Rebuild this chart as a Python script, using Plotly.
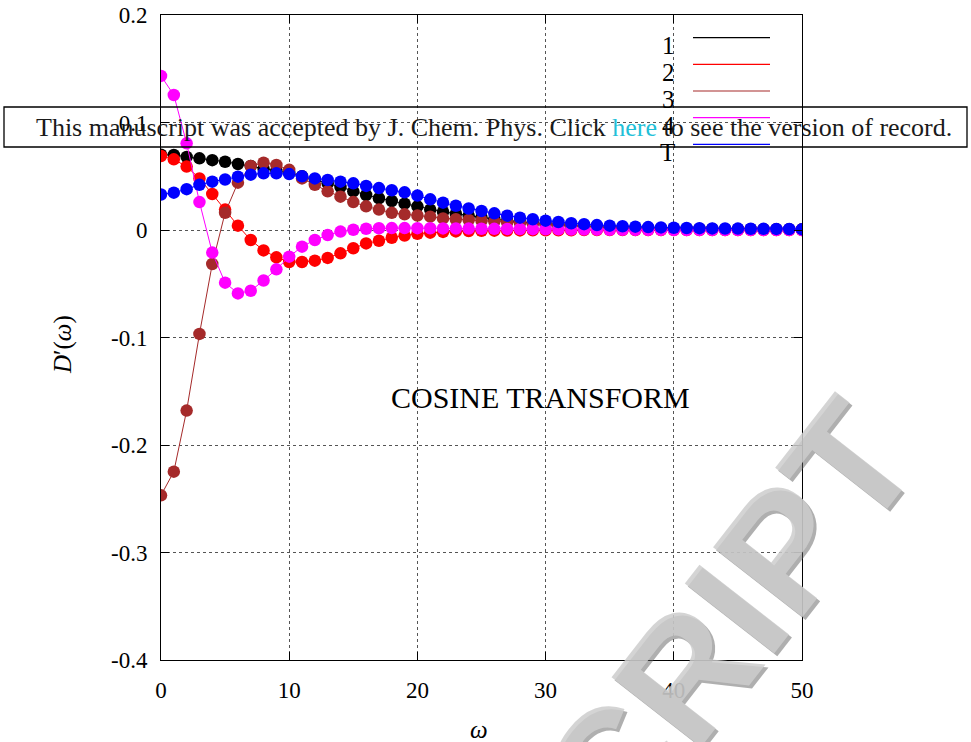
import plotly.graph_objects as go

# Frequency grid
omega = list(range(51))

# Cosine-transform curves D'(omega) for each component
d1 = [0.0700, 0.0698, 0.0680, 0.0667, 0.0650, 0.0635, 0.0614, 0.0595, 0.0570, 0.0550,
      0.0530, 0.0500, 0.0470, 0.0435, 0.0400, 0.0360, 0.0326, 0.0295, 0.0270, 0.0245,
      0.0220, 0.0190, 0.0170, 0.0152, 0.0133, 0.0116, 0.0100, 0.0087, 0.0075, 0.0064,
      0.0055, 0.0047, 0.0040, 0.0034, 0.0029, 0.0025, 0.0021, 0.0018, 0.0016, 0.0014,
      0.0012, 0.0011, 0.0010, 0.0009, 0.0008, 0.0008, 0.0007, 0.0007, 0.0006, 0.0006,
      0.0006]
d2 = [0.0688, 0.0657, 0.0590, 0.0480, 0.0335, 0.0190, 0.0040, -0.0093, -0.0190, -0.0254,
      -0.0298, -0.0298, -0.0285, -0.0260, -0.0217, -0.0170, -0.0125, -0.0100, -0.0072, -0.0052,
      -0.0035, -0.0025, -0.0018, -0.0013, -0.0010, -0.0008, -0.0006, -0.0005, -0.0004, -0.0003,
      -0.0002, -0.0002, -0.0002, -0.0001, -0.0001, -0.0001, -0.0001, -0.0001, 0.0000, 0.0000,
      0.0000, 0.0000, 0.0000, 0.0000, 0.0000, 0.0000, 0.0000, 0.0000, 0.0000, 0.0000,
      0.0000]
d3 = [-0.2468, -0.2248, -0.1680, -0.0967, -0.0316, 0.0160, 0.0440, 0.0595, 0.0626, 0.0605,
      0.0560, 0.0480, 0.0420, 0.0360, 0.0310, 0.0260, 0.0220, 0.0190, 0.0160, 0.0146,
      0.0135, 0.0124, 0.0108, 0.0100, 0.0093, 0.0087, 0.0080, 0.0072, 0.0065, 0.0058,
      0.0050, 0.0044, 0.0038, 0.0032, 0.0027, 0.0023, 0.0019, 0.0016, 0.0014, 0.0012,
      0.0010, 0.0009, 0.0009, 0.0008, 0.0008, 0.0007, 0.0007, 0.0006, 0.0006, 0.0005,
      0.0005]
d4 = [0.1433, 0.1256, 0.0806, 0.0260, -0.0210, -0.0490, -0.0590, -0.0565, -0.0470, -0.0366,
      -0.0248, -0.0155, -0.0093, -0.0047, -0.0015, 0.0002, 0.0012, 0.0016, 0.0018, 0.0018,
      0.0017, 0.0016, 0.0015, 0.0014, 0.0013, 0.0012, 0.0011, 0.0010, 0.0009, 0.0008,
      0.0007, 0.0006, 0.0005, 0.0004, 0.0003, 0.0002, 0.0002, 0.0001, 0.0001, 0.0001,
      0.0000, 0.0000, 0.0000, 0.0000, 0.0000, 0.0000, 0.0000, 0.0000, 0.0000, 0.0000,
      0.0000]
dT = [0.0330, 0.0347, 0.0380, 0.0420, 0.0450, 0.0470, 0.0496, 0.0515, 0.0527, 0.0527,
      0.0520, 0.0500, 0.0480, 0.0465, 0.0450, 0.0434, 0.0410, 0.0390, 0.0370, 0.0350,
      0.0320, 0.0285, 0.0254, 0.0226, 0.0200, 0.0177, 0.0155, 0.0133, 0.0115, 0.0100,
      0.0087, 0.0074, 0.0063, 0.0054, 0.0046, 0.0040, 0.0035, 0.0031, 0.0027, 0.0024,
      0.0021, 0.0019, 0.0017, 0.0015, 0.0014, 0.0013, 0.0012, 0.0011, 0.0010, 0.0009,
      0.0008]

series_names = ["1", "2", "3", "4", "T"]
series_values = [d1, d2, d3, d4, dT]
series_colors = ["#000000", "#ff0000", "#a52a2a", "#ff00ff", "#0000ff"]

x_ticks = [0, 10, 20, 30, 40, 50]
y_ticks = [-0.4, -0.3, -0.2, -0.1, 0, 0.1, 0.2]
y_tick_text = ["-0.4", "-0.3", "-0.2", "-0.1", "0", "0.1", "0.2"]

W, H = 971, 742
L, R, T, B = 161, 802, 15, 660
SERIF = "Liberation Serif"


def px_x(px):
    return (px - L) / (R - L)


def px_y(py):
    return (B - py) / (B - T)


fig = go.Figure()
for name, vals, col in zip(series_names, series_values, series_colors):
    fig.add_trace(go.Scatter(
        x=omega, y=vals, mode="lines+markers", name=name, showlegend=False,
        line=dict(color=col, width=1),
        marker=dict(color=col, size=12.5, line=dict(width=0)),
    ))

axis_common = dict(
    showline=True, linecolor="black", linewidth=1, mirror="ticks",
    ticks="inside", ticklen=8, tickcolor="black", tickwidth=1,
    showgrid=True, gridcolor="#555555", griddash="dot", gridwidth=1,
    zeroline=False, tickfont=dict(family=SERIF, size=23, color="black"),
)
fig.update_xaxes(range=[0, 50], tickvals=x_ticks, ticktext=[str(v) for v in x_ticks],
                 ticklabelstandoff=9, **axis_common)
fig.update_yaxes(range=[-0.4, 0.2], tickvals=y_ticks, ticktext=y_tick_text,
                 ticklabelstandoff=8, **axis_common)

shapes = []
annotations = []

# Diagonal watermark: a darker offset copy under a lighter face gives a raised look
wm_x, wm_y, wm_angle, wm_size = 728, 620, -52, 165
for dx, dy, col in [(3, 3, "rgba(95,95,95,0.5)"), (0, 0, "rgba(205,205,205,0.85)")]:
    annotations.append(dict(xref="paper", yref="paper", x=px_x(wm_x + dx), y=px_y(wm_y + dy),
                            text="<b>CRIPT</b>", showarrow=False, textangle=wm_angle,
                            xanchor="center", yanchor="middle",
                            font=dict(family="Liberation Sans", size=wm_size, color=col)))

# Key: label on the left, line sample on the right
key_line_y = [37.7, 64.3, 91, 117.7, 144.3]
for name, col, ly in zip(series_names, series_colors, key_line_y):
    shapes.append(dict(type="line", xref="paper", yref="paper",
                       x0=px_x(693), x1=px_x(770), y0=px_y(ly), y1=px_y(ly),
                       line=dict(color=col, width=1.2)))
    annotations.append(dict(xref="paper", yref="paper", x=px_x(677), y=px_y(ly + 8),
                            text=name, showarrow=False, xanchor="right", yanchor="middle",
                            font=dict(family=SERIF, size=25, color="black")))

annotations.append(dict(xref="paper", yref="paper", x=px_x(540), y=px_y(397),
                        text="COSINE TRANSFORM", showarrow=False,
                        xanchor="center", yanchor="middle",
                        font=dict(family=SERIF, size=30, color="black")))

# Axis titles
annotations.append(dict(xref="paper", yref="paper", x=px_x(63), y=px_y(345),
                        text="<i>D</i>′(<i>ω</i>)", showarrow=False, textangle=-90,
                        xanchor="center", yanchor="middle",
                        font=dict(family=SERIF, size=25, color="black")))
annotations.append(dict(xref="paper", yref="paper", x=px_x(479), y=px_y(729),
                        text="<i>ω</i>", showarrow=False,
                        xanchor="center", yanchor="middle",
                        font=dict(family=SERIF, size=25, color="black")))

# Accepted-manuscript banner
shapes.append(dict(type="rect", xref="paper", yref="paper",
                   x0=px_x(4), x1=px_x(967), y0=px_y(107), y1=px_y(147),
                   line=dict(color="black", width=1.3), fillcolor="rgba(0,0,0,0)"))
annotations.append(dict(xref="paper", yref="paper", x=px_x(494), y=px_y(127),
                        text=("This manuscript was accepted by J. Chem. Phys. Click "
                              "<span style='color:#22bfd8'>here</span> "
                              "to see the version of record."),
                        showarrow=False, xanchor="center", yanchor="middle",
                        font=dict(family=SERIF, size=26, color="#1a1a1a")))

fig.update_layout(
    width=W, height=H,
    margin=dict(l=L, r=W - R, t=T, b=H - B, autoexpand=False),
    paper_bgcolor="white", plot_bgcolor="white",
    shapes=shapes, annotations=annotations,
    showlegend=False,
)

fig.write_html("out.html")
